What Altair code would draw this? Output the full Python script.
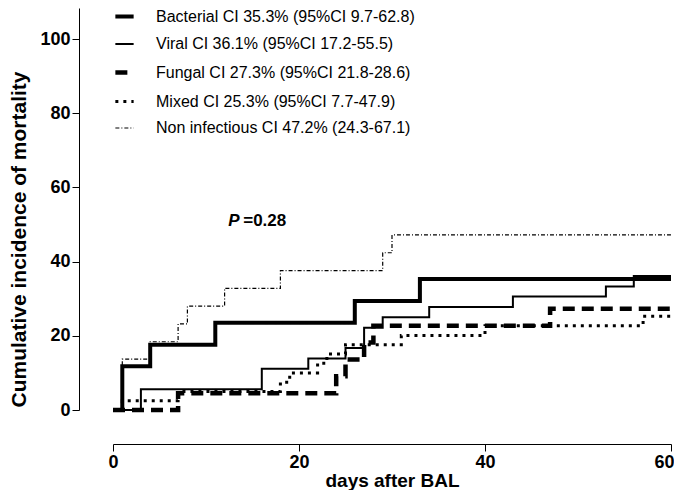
import altair as alt
import pandas as pd

groups = [
    "Bacterial CI 35.3% (95%CI 9.7-62.8)",
    "Viral CI 36.1% (95%CI 17.2-55.5)",
    "Fungal  CI 27.3% (95%CI 21.8-28.6)",
    "Mixed CI 25.3% (95%CI 7.7-47.9)",
    "Non infectious CI 47.2% (24.3-67.1)",
]

bacterial_days = [0, 1, 4, 11, 26, 33, 60]
bacterial_vals = [0, 11.8, 17.6, 23.5, 29.4, 35.3, 35.3]

viral_days = [0, 3, 16, 21, 25, 27, 29, 34, 43, 53, 56, 60]
viral_vals = [0, 5.6, 11.1, 13.9, 16.7, 22.2, 25.0, 27.8, 30.6, 33.3, 36.1, 36.1]

fungal_days = [0, 7, 24, 25, 27, 28, 47, 60]
fungal_vals = [0, 4.5, 9.1, 13.6, 18.2, 22.7, 27.3, 27.3]

mixed_days = [0, 1, 7, 18, 19, 22, 23, 25, 31, 40, 57, 60]
mixed_vals = [0, 2.5, 5.0, 7.5, 10.0, 12.6, 15.1, 17.6, 20.1, 22.7, 25.3, 25.3]

noninf_days = [0, 1, 4, 7, 8, 12, 18, 29, 30, 60]
noninf_vals = [0, 13.7, 18.4, 23.2, 28.0, 32.8, 37.6, 42.4, 47.2, 47.2]

dash_range = [[1, 0], [1, 0], [12, 7], [3, 5], [4, 2, 1, 2]]
width_range = [4, 2, 4.5, 3, 1.2]

ann_text = ["P", "=0.28"]
ann_day = [12.4, 14.0]
ann_val = [51, 51]

x_ticks = [0, 20, 40, 60]
y_ticks = [0, 20, 40, 60, 80, 100]

rows = []
for g, ds, vs in zip(groups,
                     [bacterial_days, viral_days, fungal_days, mixed_days, noninf_days],
                     [bacterial_vals, viral_vals, fungal_vals, mixed_vals, noninf_vals]):
    for d, v in zip(ds, vs):
        rows.append({"group": g, "day": d, "ci": v})
df = pd.DataFrame(rows)

ann = pd.DataFrame({"text": ann_text, "day": ann_day, "ci": ann_val})

FONT = "Liberation Sans"

xscale = alt.Scale(domain=[0, 60], nice=False)
yscale = alt.Scale(domain=[0, 108.4], nice=False)

leg = dict(
    orient="none", legendX=0, legendY=-3, title=None,
    symbolType="stroke", symbolSize=334, symbolStrokeColor="black",
    labelFontSize=16, labelFont=FONT, labelColor="black", labelOffset=20,
    rowPadding=8.5, labelLimit=0,
)

lines = alt.Chart(df).mark_line(
    interpolate="step-after", color="black", strokeCap="butt", strokeJoin="miter"
).encode(
    x=alt.X("day:Q", scale=xscale,
            axis=alt.Axis(values=x_ticks, title="days after BAL", offset=34,
                          labelPadding=2, titlePadding=0, titleFontSize=19,
                          labelAlign=alt.condition("datum.value == 60",
                                                   alt.value("right"),
                                                   alt.value("center")),
                          labelOffset=alt.condition("datum.value == 60",
                                                    alt.value(3),
                                                    alt.value(0)))),
    y=alt.Y("ci:Q", scale=yscale,
            axis=alt.Axis(values=y_ticks, title="Cumulative incidence of mortality",
                          offset=34, labelPadding=2, titlePadding=10,
                          titleFontSize=21, titleY=231)),
    strokeDash=alt.StrokeDash("group:N", scale=alt.Scale(domain=groups, range=dash_range),
                              legend=alt.Legend(**leg)),
    strokeWidth=alt.StrokeWidth("group:N",
                                scale=alt.Scale(type="ordinal", domain=groups, range=width_range),
                                legend=alt.Legend(**leg)),
)

p_text = alt.Chart(ann.iloc[[0]]).mark_text(
    align="left", baseline="middle", fontSize=17, fontWeight="bold",
    fontStyle="italic", font=FONT, color="black"
).encode(x=alt.X("day:Q", scale=xscale), y=alt.Y("ci:Q", scale=yscale), text="text:N")

v_text = alt.Chart(ann.iloc[[1]]).mark_text(
    align="left", baseline="middle", fontSize=17, fontWeight="bold",
    font=FONT, color="black"
).encode(x=alt.X("day:Q", scale=xscale), y=alt.Y("ci:Q", scale=yscale), text="text:N")

chart = alt.layer(lines, p_text, v_text).properties(
    width=558, height=402,
    autosize=alt.AutoSizeParams(type="none"),
    padding={"left": 105, "top": 0, "right": 3, "bottom": 80},
).configure_view(stroke=None).configure_axis(
    grid=False, domainColor="black", tickColor="black", domainWidth=1, tickWidth=1,
    tickSize=7, labelFont=FONT, labelFontSize=18, labelFontWeight="bold",
    labelColor="black", titleFont=FONT, titleFontWeight="bold",
    titleColor="black",
)

chart.save("out.html", embed_options={"renderer": "svg", "actions": False})
